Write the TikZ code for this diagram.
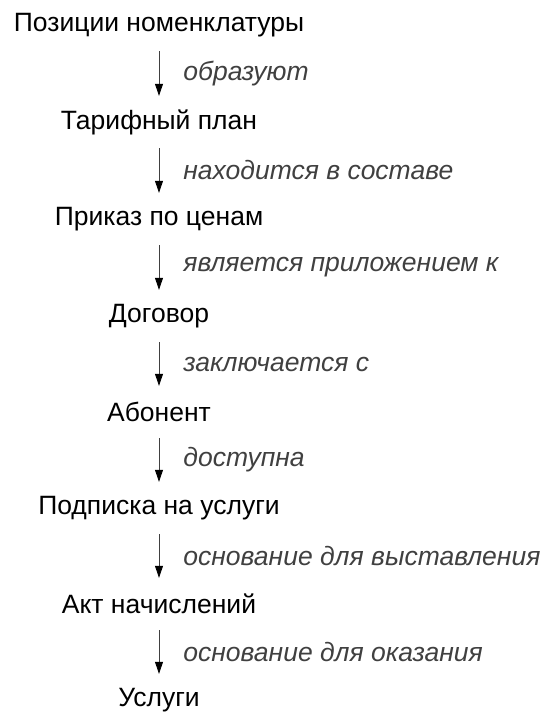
\documentclass[tikz,border=0pt]{standalone}
\usepackage{fontspec}
\setmainfont{Liberation Sans}
\usetikzlibrary{arrows.meta,positioning}

\begin{document}
\begin{tikzpicture}[x=1pt,y=1pt]
		\tikzstyle{entity}=[inner sep=0pt,minimum height=52pt,font=\fontsize{26.5}{30}\selectfont]
		\tikzstyle{relation}=[anchor=west,xshift=24pt,inner sep=0pt,text=black!75,font=\fontsize{26.5}{30}\selectfont\itshape]
		\tikzstyle{link}=[thick,draw=black!75,arrows={-Triangle[length=12pt,width=8pt,color=black]}]
		
		\useasboundingbox (0,0) rectangle (556,-726);
		
		\node[entity] (nomen) at (159,-25) {Позиции номенклатуры};
		\node[entity] (tariff) at (159,-122) {Тарифный план};
		\node[entity] (order) at (159,-219) {Приказ по ценам};
		\node[entity] (contract) at (159,-316) {Договор};
		\node[entity] (client) at (159,-412) {Абонент};
		\node[entity] (subscr) at (159,-508) {Подписка на услуги};
		\node[entity] (act) at (159,-604) {Акт начислений};
		\node[entity] (services) at (159,-700) {Услуги};
		
		\draw[link] (nomen) -- node[relation] {образуют} (tariff);
		\draw[link] (tariff) -- node[relation] {находится в составе} (order);
		\draw[link] (order) -- node[relation] {является приложением к} (contract);
		\draw[link] (contract) -- node[relation] {заключается с} (client);
		\draw[link] (client) -- node[relation] {доступна} (subscr);
		\draw[link] (subscr) -- node[relation] {основание для выставления} (act);
		\draw[link] (act) -- node[relation] {основание для оказания} (services);
\end{tikzpicture}
\end{document}
